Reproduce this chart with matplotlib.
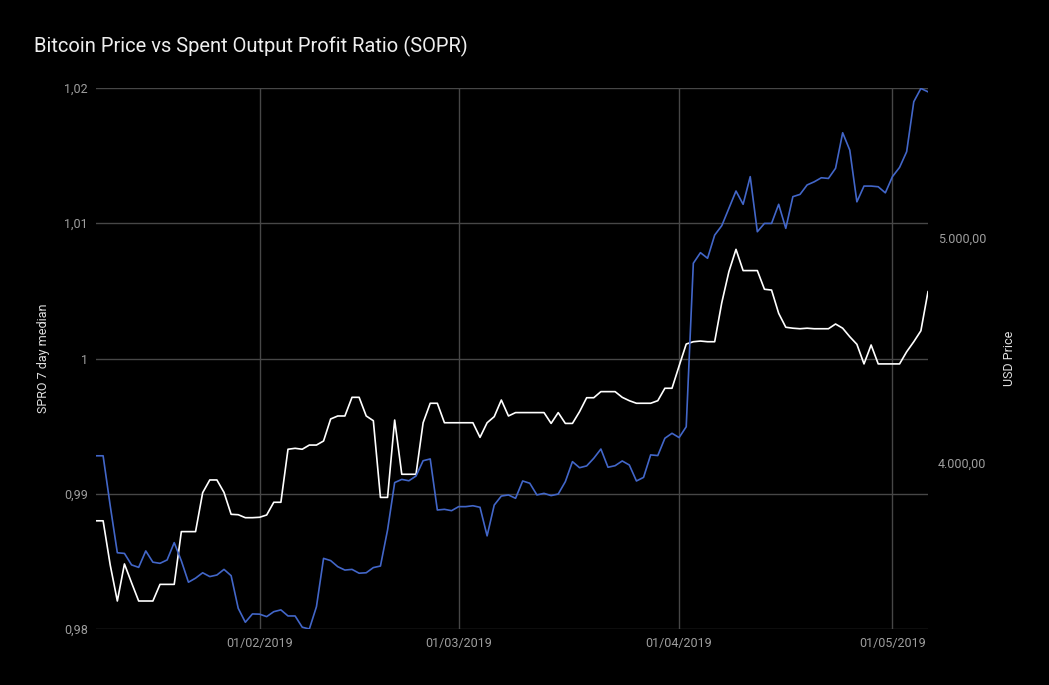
import numpy as np
import pandas as pd
import matplotlib
matplotlib.use("Agg")
import matplotlib.pyplot as plt
import matplotlib.dates as mdates
from matplotlib.ticker import FuncFormatter, FixedLocator

plt.rcParams['font.family'] = ['Roboto', 'DejaVu Sans']

# daily values, 09/01/2019 .. 06/05/2019
dates = pd.date_range('2019-01-09', '2019-05-06', freq='D')

sopr = [
    0.9880, 0.9880, 0.98473, 0.98207, 0.98481, 0.98342, 0.98207, 0.98207, 0.98207, 0.9833,
    0.9833, 0.9833, 0.9872, 0.9872, 0.9872, 0.99008, 0.99102, 0.99102, 0.9901, 0.98848,
    0.98845, 0.98823, 0.98823, 0.98826, 0.98843, 0.98937, 0.98937, 0.99329, 0.99336, 0.99329,
    0.9936, 0.9936, 0.9939, 0.99553, 0.99575, 0.99575, 0.99713, 0.99713, 0.99575, 0.9954,
    0.98973, 0.98973, 0.99545, 0.99144, 0.99144, 0.99144, 0.99525, 0.99669, 0.99669, 0.99525,
    0.99525, 0.99525, 0.99525, 0.99525, 0.99417, 0.99525, 0.9957, 0.99693, 0.99575, 0.996,
    0.996, 0.996, 0.996, 0.996, 0.9952, 0.996, 0.9952, 0.9952, 0.99607, 0.9971,
    0.9971, 0.99755, 0.99755, 0.99755, 0.99713, 0.99688, 0.99669, 0.99669, 0.99669, 0.99688,
    0.9978, 0.9978, 0.99945, 1.00107, 1.00124, 1.00129, 1.00124, 1.00124, 1.00413, 1.00642,
    1.00807, 1.0065, 1.0065, 1.0065, 1.00512, 1.00506, 1.00334, 1.00231, 1.00224, 1.0022,
    1.00224, 1.0022, 1.0022, 1.0022, 1.00255, 1.00224, 1.00161, 1.00105, 0.9996, 1.001,
    0.9996, 0.9996, 0.9996, 0.9996, 1.0005, 1.00124, 1.00205, 1.00494,
]

price = [
    4032, 4032, 3810, 3601, 3598, 3547, 3536, 3609, 3559, 3554,
    3569, 3646, 3565, 3470, 3488, 3512, 3495, 3502, 3527, 3499,
    3354, 3292, 3329, 3328, 3317, 3339, 3347, 3320, 3320, 3270,
    3262, 3361, 3576, 3566, 3539, 3524, 3527, 3510, 3512, 3535,
    3542, 3702, 3913, 3927, 3921, 3942, 4010, 4018, 3791, 3794,
    3788, 3806, 3806, 3810, 3803, 3676, 3813, 3853, 3858, 3843,
    3920, 3910, 3858, 3865, 3855, 3862, 3917, 4006, 3979, 3987,
    4021, 4062, 3981, 3988, 4009, 3991, 3920, 3936, 4036, 4033,
    4110, 4132, 4113, 4161, 4888, 4935, 4910, 5013, 5055, 5132,
    5209, 5150, 5273, 5028, 5065, 5065, 5150, 5043, 5184, 5194,
    5236, 5250, 5268, 5265, 5310, 5468, 5391, 5161, 5231, 5231,
    5228, 5201, 5273, 5314, 5384, 5606, 5665, 5650,
]

sopr_ticks = [0.98, 0.99, 1.0, 1.01, 1.02]
price_ticks = [4000, 5000]
month_ticks = pd.to_datetime(['2019-02-01', '2019-03-01', '2019-04-01', '2019-05-01'])

bg = 'black'
grid_c = '#474747'
tick_c = '#9e9e9e'

fig = plt.figure(figsize=(10.49, 6.85), dpi=100, facecolor=bg)
ax = fig.add_axes([96 / 1049, 56 / 685, 832 / 1049, 541 / 685])
ax.set_facecolor(bg)
ax2 = ax.twinx()

ax.plot(dates, sopr, color='white', lw=1.2)
ax2.plot(dates, price, color='#4266c8', lw=1.2)

ax.set_xlim(dates[0], dates[-1])
ax.set_ylim(0.98, 1.02)
ax2.set_ylim(3262, 5667)

ax.yaxis.set_major_locator(FixedLocator(sopr_ticks))
ax.yaxis.set_major_formatter(FuncFormatter(lambda v, p: f"{v:g}".replace('.', ',')))
ax2.yaxis.set_major_locator(FixedLocator(price_ticks))
ax2.yaxis.set_major_formatter(
    FuncFormatter(lambda v, p: f"{v:,.2f}".replace(',', ' ').replace('.', ',').replace(' ', '.')))
ax.xaxis.set_major_locator(FixedLocator(mdates.date2num(month_ticks)))
ax.xaxis.set_major_formatter(mdates.DateFormatter('%d/%m/%Y'))

ax.grid(True, color=grid_c, lw=1)
ax.set_axisbelow(True)
for a in (ax, ax2):
    for s in a.spines.values():
        s.set_visible(False)
    a.tick_params(length=0, colors=tick_c, labelsize=9)
ax.tick_params(axis='y', pad=6)
ax.tick_params(axis='x', pad=6)
ax2.tick_params(axis='y', pad=7)

ax.set_ylabel('SPRO 7 day median', color='#e0e0e0', fontsize=9, labelpad=10)
ax2.set_ylabel('USD Price', color='#e0e0e0', fontsize=9, labelpad=12)

fig.text(34 / 1049, 1 - 46 / 685, 'Bitcoin Price vs Spent Output Profit Ratio (SOPR)',
         color='#eeeeee', fontsize=14.5, va='center', ha='left')

fig.savefig('out.png', dpi=100, facecolor=bg)
